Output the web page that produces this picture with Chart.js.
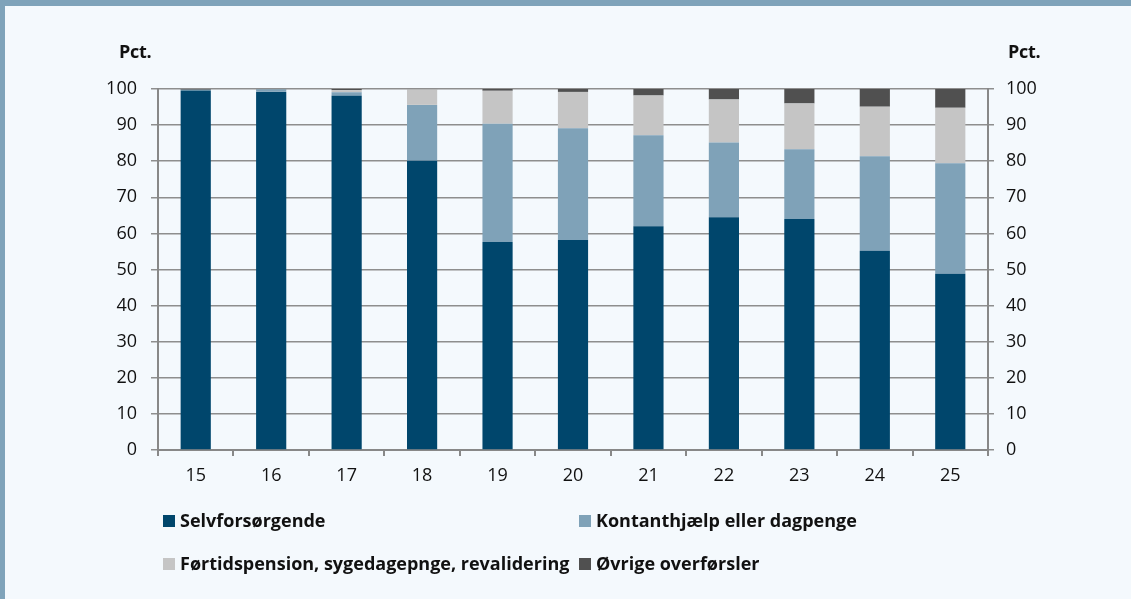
<!DOCTYPE html>
<html>
<head>
<meta charset="utf-8">
<script src="https://cdn.jsdelivr.net/npm/chart.js@4/dist/chart.umd.min.js"></script>
<style>
  html, body { margin: 0; padding: 0; }
  body { width: 1131px; height: 599px; background: #f4f9fd; position: relative; overflow: hidden; font-family: "Open Sans", Lato, sans-serif; }
  #wrap { position: absolute; left: 0; top: 0; width: 1131px; height: 599px; }
  .bt { position: absolute; left: 0; top: 0; width: 1131px; height: 6px; background: #7fa3ba; }
  .bl { position: absolute; left: 0; top: 0; width: 5px; height: 599px; background: #7fa3ba; }
  .pct { position: absolute; top: 39px; font-weight: bold; font-size: 18px; color: #111; line-height: 24px; letter-spacing: -0.3px; }
  .leg { position: absolute; font-weight: bold; font-size: 18px; color: #111; line-height: 22px; white-space: nowrap; }
  .leg span.box { display: inline-block; width: 12px; height: 12px; margin-right: 5px; vertical-align: 0px; }
</style>
</head>
<body>
<div id="wrap"><canvas id="c" width="1131" height="599"></canvas></div>
<div class="bt"></div>
<div class="bl"></div>
<div class="pct" style="left:119px;">Pct.</div>
<div class="pct" style="left:1008px;">Pct.</div>
<div id="legend"></div>
<script>
const categories = ['15','16','17','18','19','20','21','22','23','24','25'];
const seriesNames = ['Selvforsørgende','Kontanthjælp eller dagpenge','Førtidspension, sygedagepnge, revalidering','Øvrige overførsler'];
const selvforsorgende = [99.6, 99.2, 98.1, 80.1, 57.6, 58.2, 62.0, 64.5, 64.0, 55.2, 48.8];
const kontanthjaelp   = [0.2, 0.7, 1.0, 15.5, 32.8, 30.9, 25.2, 20.7, 19.3, 26.2, 30.6];
const fortidspension  = [0.0, 0.0, 0.6, 4.3, 9.1, 10.1, 11.0, 11.9, 12.7, 13.7, 15.4];
const ovrige          = [0.2, 0.1, 0.3, 0.1, 0.5, 0.8, 1.8, 2.9, 4.0, 4.9, 5.2];
const yTicks = [0,10,20,30,40,50,60,70,80,90,100];

const colors = ['#00466c', '#7fa2b8', '#c5c5c5', '#505050'];
const values = [selvforsorgende, kontanthjaelp, fortidspension, ovrige];

const tickFont = { family: '"Open Sans", Lato, sans-serif', size: 18 };

const chart = new Chart(document.getElementById('c'), {
  type: 'bar',
  data: {
    labels: categories,
    datasets: seriesNames.map((n, i) => ({
      label: n,
      data: values[i],
      backgroundColor: colors[i],
      borderWidth: 0,
      barPercentage: 0.4,
      categoryPercentage: 1.0,
      yAxisID: 'y'
    }))
  },
  options: {
    responsive: false,
    animation: false,
    devicePixelRatio: 1,
    layout: { padding: { top: 89, left: 0, right: 0, bottom: 0 } },
    plugins: { legend: { display: false }, tooltip: { enabled: false } },
    scales: {
      x: {
        stacked: true,
        grid: { display: true, drawOnChartArea: false, offset: true, color: '#888', lineWidth: 2, tickLength: 6 },
        border: { display: true, color: '#888', width: 2 },
        ticks: { color: '#111', font: tickFont, padding: 9, maxRotation: 0 },
        afterFit: s => { s.height = 149; }
      },
      y: {
        stacked: true,
        position: 'left',
        min: 0, max: 100,
        afterBuildTicks: s => { s.ticks = yTicks.map(v => ({ value: v })); },
        grid: { color: '#8e8e8e', lineWidth: 1.5, tickLength: 7 },
        border: { display: true, color: '#888', width: 2 },
        ticks: { color: '#111', font: tickFont, padding: 14 },
        afterFit: s => { s.width = 158; }
      },
      y2: {
        position: 'right',
        min: 0, max: 100,
        afterBuildTicks: s => { s.ticks = yTicks.map(v => ({ value: v })); },
        grid: { drawOnChartArea: false, color: '#8e8e8e', lineWidth: 1.5, tickLength: 6 },
        border: { display: true, color: '#888', width: 2 },
        ticks: { color: '#111', font: tickFont, padding: 12 },
        afterFit: s => { s.width = 143; }
      }
    }
  }
});

// HTML legend built from datasets
const legendPos = [
  { left: 163, top: 509 },
  { left: 579, top: 509 },
  { left: 163, top: 552 },
  { left: 579, top: 552 }
];
const lg = document.getElementById('legend');
chart.data.datasets.forEach((ds, i) => {
  const d = document.createElement('div');
  d.className = 'leg';
  d.style.left = legendPos[i].left + 'px';
  d.style.top = legendPos[i].top + 'px';
  const b = document.createElement('span');
  b.className = 'box';
  b.style.background = ds.backgroundColor;
  d.appendChild(b);
  d.appendChild(document.createTextNode(ds.label));
  lg.appendChild(d);
});
</script>
</body>
</html>
